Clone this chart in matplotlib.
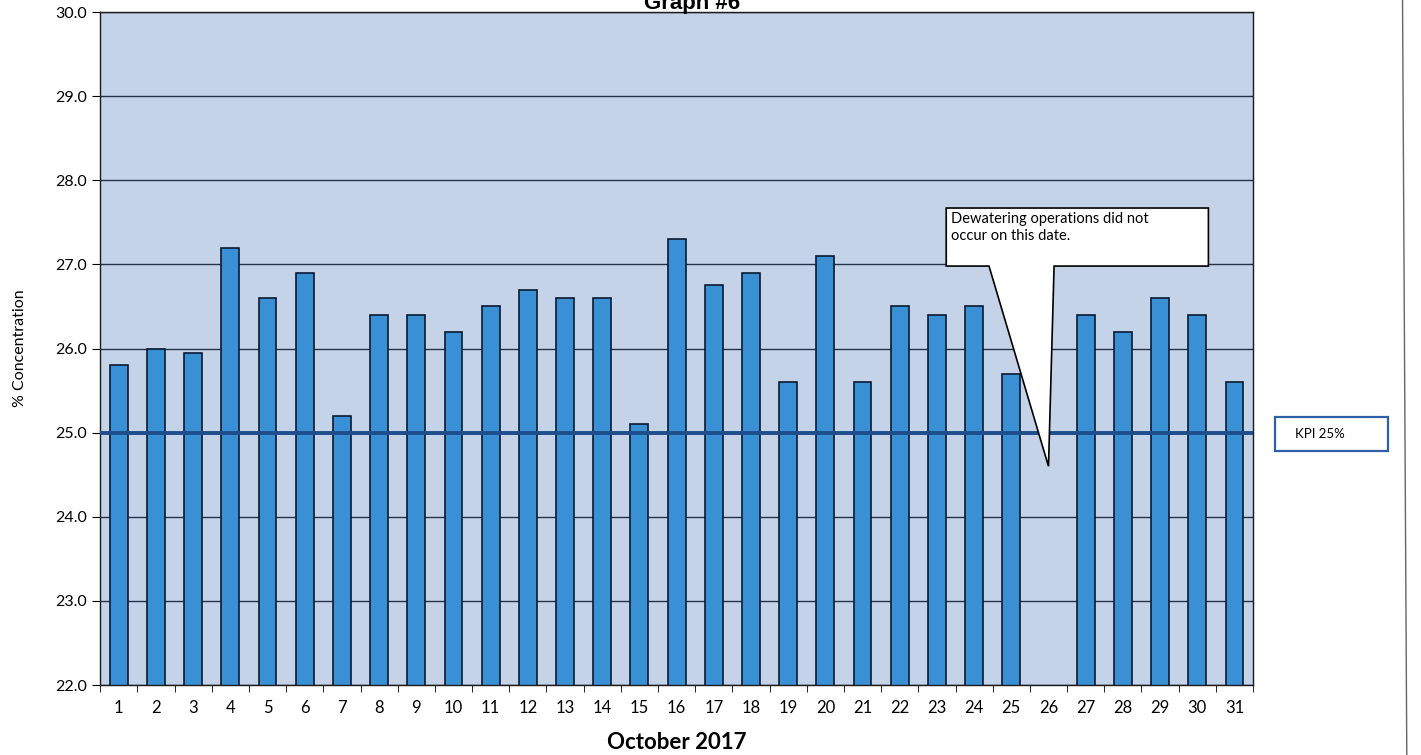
import matplotlib.pyplot as plt
from matplotlib.patches import Polygon, Rectangle
from matplotlib.lines import Line2D

plt.rcParams['font.family'] = ['Lato', 'DejaVu Sans']

# Daily % concentration, October 2017 (no dewatering on the 26th)
days = list(range(1, 32))
conc = [25.8, 26.0, 25.95, 27.2, 26.6, 26.9, 25.2, 26.4, 26.4, 26.2,
        26.5, 26.7, 26.6, 26.6, 25.1, 27.3, 26.75, 26.9, 25.6, 27.1,
        25.6, 26.5, 26.4, 26.5, 25.7, None, 26.4, 26.2, 26.6, 26.4, 25.6]
kpi = 25.0
yticks = [22, 23, 24, 25, 26, 27, 28, 29, 30]
missing_day = 26

x = [d for d, v in zip(days, conc) if v is not None]
y = [v for v in conc if v is not None]

fig = plt.figure(figsize=(14.21, 7.55), dpi=100)
ax = fig.add_axes([0.0705, 0.0927, 0.8113, 0.8914])
ax.set_facecolor('#c4d3e8')

ax.bar(x, y, width=0.48, color='#3a90d4', edgecolor='#0b1a30', linewidth=1.2, zorder=2)

# KPI line
ax.axhline(kpi, color='#1f4e8c', lw=2.8, zorder=3)

ax.set_xlim(0.5, 31.5)
ax.set_ylim(yticks[0], yticks[-1])
ax.set_yticks(yticks)
ax.set_yticklabels([f'{t:.1f}' for t in yticks], fontsize=11.5)
ax.yaxis.grid(True, color='#26324a', lw=1)
ax.set_axisbelow(True)

ax.set_xticks(days)
ax.set_xticklabels([str(d) for d in days], fontsize=12)
ax.set_xticks([d + 0.5 for d in [0] + days], minor=True)
ax.tick_params(axis='x', which='major', length=0, pad=11)
ax.tick_params(axis='x', which='minor', length=5, color='black')
ax.tick_params(axis='y', length=6, color='black')

for s in ax.spines.values():
    s.set_color('#1a1a1a')
    s.set_linewidth(1)

ax.set_ylabel('% Concentration', fontsize=11.5, labelpad=20)
ax.set_xlabel('October 2017', fontsize=16, fontweight='bold', labelpad=11)

# Callout for the missing day
bx0, bx1, by0, by1 = 23.25, 30.3, 26.98, 27.67
callout = Polygon([(bx0, by1), (bx1, by1), (bx1, by0), (missing_day + 0.15, by0),
                   (missing_day, 24.6), (missing_day - 1.6, by0), (bx0, by0)],
                  closed=True, facecolor='white', edgecolor='black', lw=1.2, zorder=5)
ax.add_patch(callout)
ax.text(bx0 + 0.12, by1 - 0.05, 'Dewatering operations did not\noccur on this date.',
        fontsize=10.5, va='top', ha='left', zorder=6, linespacing=1.25)

# KPI box outside the plot
fig.add_artist(Rectangle((0.897, 0.4026), 0.08, 0.045, transform=fig.transFigure,
                         facecolor='white', edgecolor='#2e5fa8', lw=1.6))
fig.text(0.911, 0.425, 'KPI 25%', fontsize=9.5, va='center', ha='left')

# Title (cut off at the top of the scan)
fig.text(0.487, 0.988, 'Graph #6', ha='center', va='baseline', fontsize=16,
         fontweight='bold', family='Liberation Sans')

# page edge from the scan
fig.add_artist(Line2D([0.987, 0.99], [1, 0], color='#666666', lw=1))

fig.savefig('out.png', dpi=100)
